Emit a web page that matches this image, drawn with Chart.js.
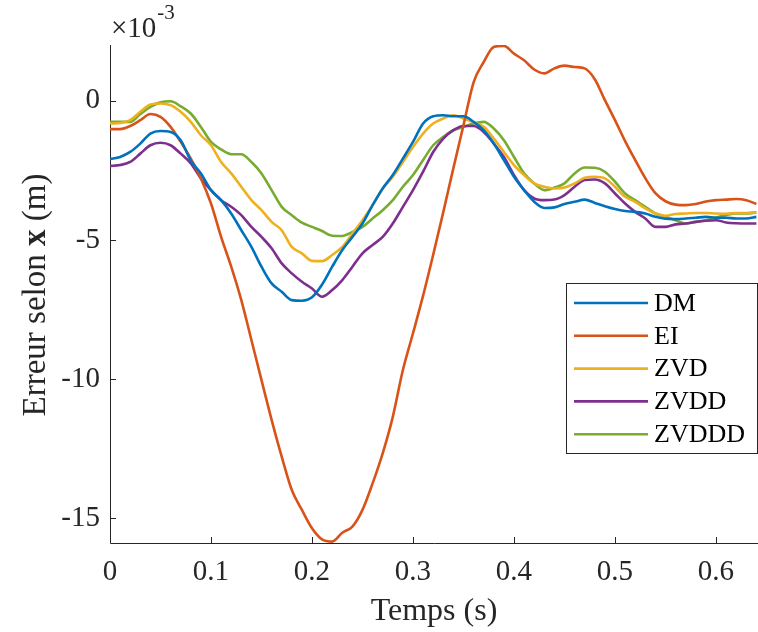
<!DOCTYPE html>
<html>
<head>
<meta charset="utf-8">
<script src="https://cdn.jsdelivr.net/npm/chart.js@4.4.1/dist/chart.umd.min.js"></script>
<style>
  html, body { margin: 0; padding: 0; background: #fff; }
  #wrap { width: 758px; height: 632px; }
</style>
</head>
<body>
<div id="wrap"><canvas id="chart" width="758" height="632"></canvas></div>
<script>
// temps (s)
const temps = [0, 0.01, 0.02, 0.03, 0.04, 0.05, 0.06, 0.07, 0.08, 0.09,
  0.10, 0.11, 0.12, 0.13, 0.14, 0.15, 0.16, 0.17, 0.18, 0.19,
  0.20, 0.21, 0.22, 0.23, 0.24, 0.25, 0.26, 0.27, 0.28, 0.29,
  0.30, 0.31, 0.32, 0.33, 0.34, 0.35, 0.36, 0.37, 0.38, 0.39,
  0.40, 0.41, 0.42, 0.43, 0.44, 0.45, 0.46, 0.47, 0.48, 0.49,
  0.50, 0.51, 0.52, 0.53, 0.54, 0.55, 0.56, 0.57, 0.58, 0.59,
  0.60, 0.61, 0.62, 0.63, 0.64];

// erreurs en x10^-3 m
const dm = [-2.10, -2.02, -1.84, -1.54, -1.18, -1.09, -1.12, -1.42, -2.15, -2.61,
  -3.21, -3.57, -4.05, -4.65, -5.25, -5.96, -6.56, -6.86, -7.16, -7.18,
  -7.06, -6.60, -5.96, -5.36, -4.89, -4.41, -3.75, -3.15, -2.67, -2.08,
  -1.48, -0.82, -0.56, -0.52, -0.56, -0.56, -0.76, -1.06, -1.54, -2.13,
  -2.73, -3.21, -3.63, -3.85, -3.83, -3.71, -3.63, -3.55, -3.67, -3.79,
  -3.89, -3.96, -3.99, -4.05, -4.17, -4.24, -4.25, -4.23, -4.20, -4.17,
  -4.20, -4.20, -4.23, -4.23, -4.17];
const ei = [-1.02, -1.02, -0.91, -0.70, -0.48, -0.58, -0.94, -1.48, -2.08, -2.79,
  -3.69, -4.89, -5.96, -7.16, -8.59, -10.03, -11.46, -12.78, -13.98, -14.69,
  -15.35, -15.75, -15.83, -15.51, -15.29, -14.69, -13.74, -12.66, -11.35, -9.67,
  -8.35, -7.00, -5.53, -4.00, -2.42, -0.88, 0.66, 1.39, 1.93, 1.97,
  1.69, 1.45, 1.12, 0.98, 1.16, 1.26, 1.21, 1.16, 0.77, 0.02,
  -0.70, -1.45, -2.13, -2.78, -3.32, -3.61, -3.73, -3.75, -3.71, -3.62,
  -3.57, -3.55, -3.53, -3.57, -3.71];
const zvd = [-0.82, -0.80, -0.70, -0.40, -0.14, -0.10, -0.16, -0.40, -0.76, -1.24,
  -1.60, -2.20, -2.61, -3.09, -3.57, -3.93, -4.35, -4.65, -5.25, -5.48,
  -5.75, -5.76, -5.54, -5.25, -4.77, -4.29, -3.75, -3.15, -2.73, -2.20,
  -1.66, -1.18, -0.82, -0.64, -0.52, -0.64, -0.78, -0.94, -1.36, -1.84,
  -2.31, -2.67, -2.97, -3.09, -3.15, -3.12, -2.97, -2.77, -2.73, -2.79,
  -3.09, -3.45, -3.63, -3.87, -4.05, -4.13, -4.07, -4.05, -4.03, -4.03,
  -4.05, -4.06, -4.03, -4.03, -4.01];
const zvdd = [-2.34, -2.31, -2.20, -1.90, -1.60, -1.51, -1.60, -1.90, -2.25, -2.79,
  -3.21, -3.57, -3.81, -4.11, -4.53, -4.89, -5.30, -5.84, -6.20, -6.50,
  -6.74, -7.04, -6.80, -6.44, -5.96, -5.48, -5.18, -4.89, -4.41, -3.81,
  -3.21, -2.55, -1.84, -1.36, -1.06, -0.91, -0.91, -1.12, -1.54, -2.02,
  -2.67, -3.21, -3.51, -3.57, -3.55, -3.39, -3.09, -2.85, -2.83, -2.97,
  -3.33, -3.69, -3.99, -4.23, -4.53, -4.53, -4.44, -4.41, -4.35, -4.31,
  -4.29, -4.37, -4.40, -4.41, -4.41];
const zvddd = [-0.76, -0.76, -0.76, -0.48, -0.22, -0.06, -0.02, -0.20, -0.46, -0.94,
  -1.48, -1.75, -1.92, -1.92, -2.20, -2.61, -3.21, -3.81, -4.11, -4.38,
  -4.53, -4.68, -4.85, -4.86, -4.71, -4.53, -4.23, -3.93, -3.57, -3.09,
  -2.67, -2.13, -1.60, -1.30, -1.06, -0.94, -0.82, -0.76, -1.00, -1.42,
  -2.02, -2.61, -2.97, -3.21, -3.12, -2.97, -2.61, -2.40, -2.41, -2.55,
  -2.91, -3.33, -3.57, -3.81, -4.05, -4.17, -4.29, -4.41, -4.35, -4.29,
  -4.19, -4.11, -4.05, -4.05, -4.01];

const names = ['DM', 'EI', 'ZVD', 'ZVDD', 'ZVDDD'];
const series = [dm, ei, zvd, zvdd, zvddd];
const colors = ['#0072BD', '#D95319', '#EDB120', '#7E2F8E', '#77AC30'];

const xTicks = [0, 0.1, 0.2, 0.3, 0.4, 0.5, 0.6];
const yTicks = [0, -5, -10, -15];

const FONT = '"Liberation Serif", "Times New Roman", serif';
const INK = '#262626';

// axes en style MATLAB : traits vers l'intérieur, pas de cadre
const axesPlugin = {
  id: 'axesPlugin',
  beforeDatasetsDraw(chart) {
    const { ctx, chartArea: a, scales: { x, y } } = chart;
    ctx.save();
    ctx.strokeStyle = INK;
    ctx.lineWidth = 1;
    ctx.beginPath();
    ctx.moveTo(a.left + 0.5, a.top);
    ctx.lineTo(a.left + 0.5, a.bottom + 0.5);
    ctx.lineTo(a.right, a.bottom + 0.5);
    xTicks.forEach((v) => {
      const px = Math.round(x.getPixelForValue(v)) + 0.5;
      ctx.moveTo(px, a.bottom);
      ctx.lineTo(px, a.bottom - 6);
    });
    yTicks.forEach((v) => {
      const py = Math.round(y.getPixelForValue(v)) + 0.5;
      ctx.moveTo(a.left, py);
      ctx.lineTo(a.left + 6, py);
    });
    ctx.stroke();
    ctx.restore();
  },
  afterDraw(chart) {
    const { ctx, chartArea: a } = chart;
    ctx.save();
    ctx.fillStyle = INK;

    // titre axe x
    ctx.font = `32px ${FONT}`;
    ctx.textAlign = 'center';
    ctx.textBaseline = 'alphabetic';
    ctx.fillText('Temps (s)', (a.left + a.right) / 2, 620);

    // titre axe y avec x en gras
    const parts = [['Erreur selon ', 'normal'], ['x', 'bold'], [' (m)', 'normal']];
    let total = 0;
    parts.forEach((p) => {
      ctx.font = `${p[1]} 33px ${FONT}`;
      total += ctx.measureText(p[0]).width;
    });
    ctx.save();
    ctx.translate(45, 295);
    ctx.rotate(-Math.PI / 2);
    ctx.textAlign = 'left';
    let cx = -total / 2;
    parts.forEach((p) => {
      ctx.font = `${p[1]} 33px ${FONT}`;
      ctx.fillText(p[0], cx, 0);
      cx += ctx.measureText(p[0]).width;
    });
    ctx.restore();

    // facteur d'échelle
    ctx.textAlign = 'left';
    ctx.font = `29px ${FONT}`;
    ctx.fillText('\u00d710', 111, 37);
    const w = ctx.measureText('\u00d710').width;
    ctx.font = `21px ${FONT}`;
    ctx.fillText('-3', 111 + w + 1, 19);

    // légende
    const lx = 566.5, ly = 283.5, lw = 191, lh = 170;
    ctx.fillStyle = '#fff';
    ctx.fillRect(lx, ly, lw, lh);
    ctx.strokeStyle = INK;
    ctx.lineWidth = 1;
    ctx.strokeRect(lx, ly, lw, lh);
    ctx.font = `26px ${FONT}`;
    ctx.textBaseline = 'middle';
    chart.data.datasets.forEach((ds, i) => {
      const ry = 303 + i * 32.8;
      ctx.strokeStyle = ds.borderColor;
      ctx.lineWidth = 2.6;
      ctx.beginPath();
      ctx.moveTo(574, ry);
      ctx.lineTo(648, ry);
      ctx.stroke();
      ctx.fillStyle = '#000';
      ctx.fillText(ds.label, 654, ry + 1);
    });
    ctx.restore();
  },
};

new Chart(document.getElementById('chart').getContext('2d'), {
  type: 'line',
  data: {
    datasets: names.map((n, i) => ({
      label: n,
      data: temps.map((t, k) => ({ x: t, y: series[i][k] })),
      borderColor: colors[i],
      backgroundColor: colors[i],
      borderWidth: 2.6,
      pointRadius: 0,
      cubicInterpolationMode: 'monotone',
      fill: false,
    })),
  },
  options: {
    responsive: false,
    devicePixelRatio: 1,
    animation: false,
    layout: { padding: { top: 45, left: 0, right: 0, bottom: 0 } },
    plugins: { legend: { display: false }, tooltip: { enabled: false } },
    scales: {
      x: {
        type: 'linear',
        min: 0,
        max: 0.6416,
        afterBuildTicks: (s) => { s.ticks = xTicks.map((v) => ({ value: v })); },
        afterFit: (s) => { s.height = 89; },
        grid: { display: false, drawTicks: false },
        border: { display: false },
        ticks: {
          autoSkip: false,
          maxRotation: 0,
          padding: 12,
          color: INK,
          font: { family: FONT, size: 29 },
          callback: (v) => (v === 0 ? '0' : v.toFixed(1)),
        },
      },
      y: {
        type: 'linear',
        min: -15.88,
        max: 2.0,
        afterBuildTicks: (s) => { s.ticks = yTicks.map((v) => ({ value: v })); },
        afterFit: (s) => { s.width = 110; },
        grid: { display: false, drawTicks: false },
        border: { display: false },
        ticks: {
          padding: 10,
          color: INK,
          font: { family: FONT, size: 29 },
          callback: (v) => String(v),
        },
      },
    },
  },
  plugins: [axesPlugin],
});
</script>
</body>
</html>
